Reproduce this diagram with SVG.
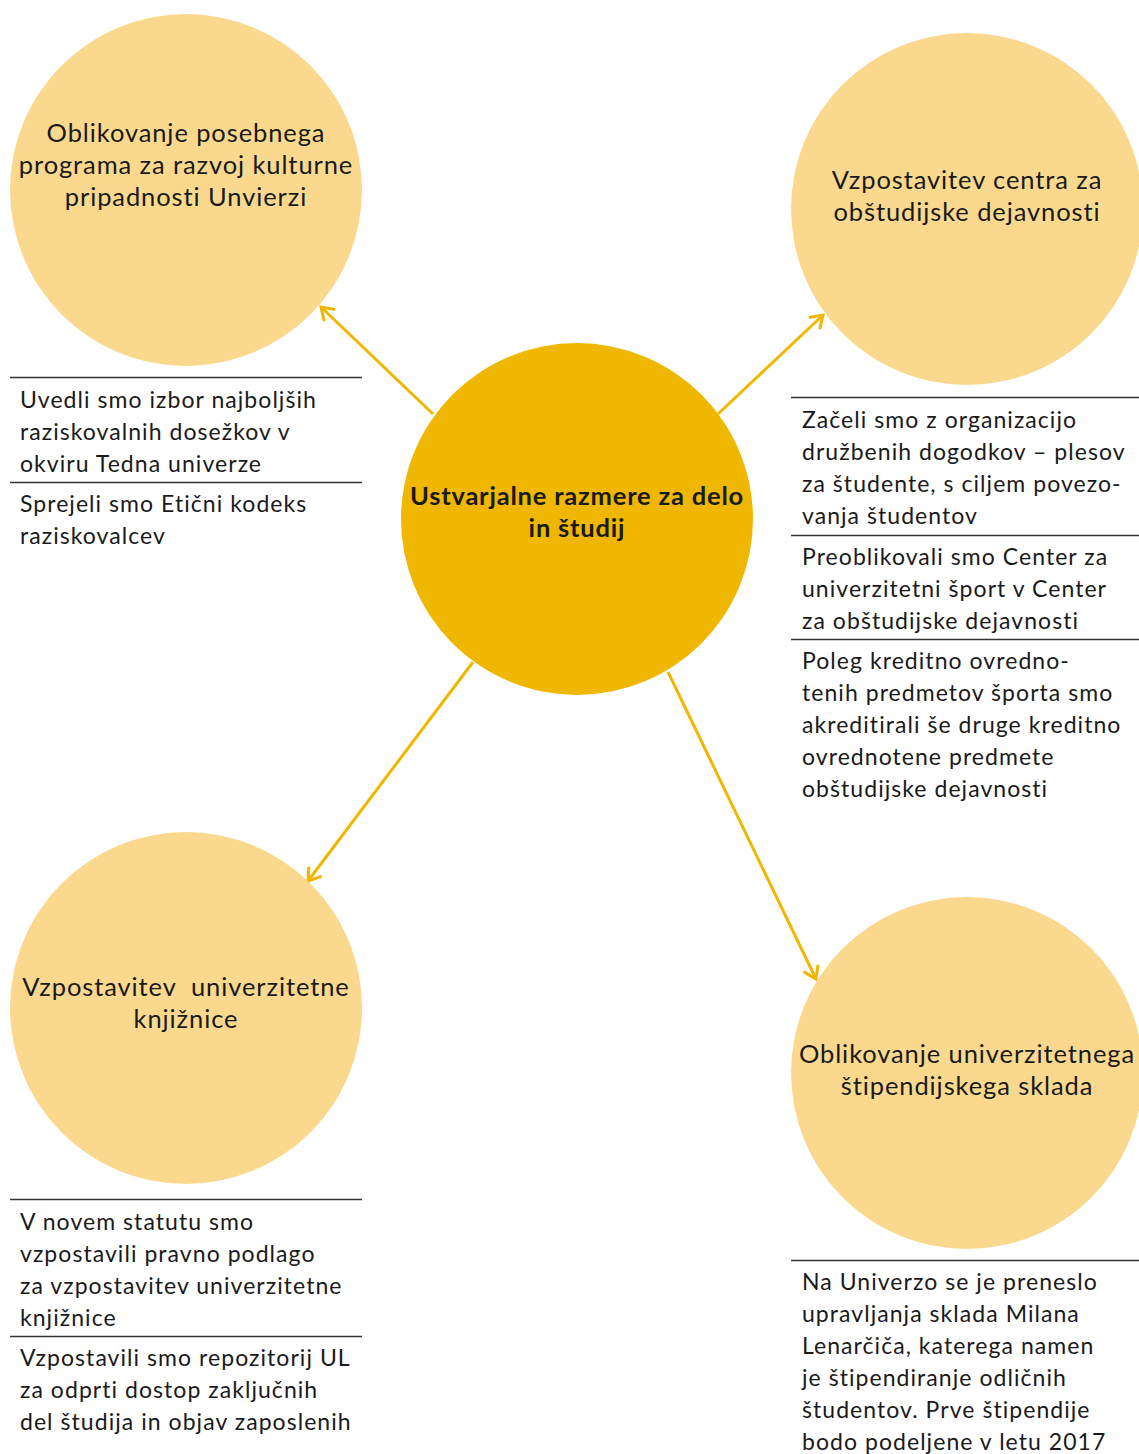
<svg xmlns="http://www.w3.org/2000/svg" width="1139" height="1454" viewBox="0 0 1139 1454">
<style>
.light{fill:#FAD98F}
.dark{fill:#F0B700}
.ct{font-family:Lato,"Noto Sans","Liberation Sans",sans-serif;font-size:25.5px;letter-spacing:0.9px;font-variant-ligatures:none;fill:#1a1a1a;text-anchor:middle}
.cb{font-weight:bold;letter-spacing:0.8px}
.t{font-family:Lato,"Noto Sans","Liberation Sans",sans-serif;font-size:23px;letter-spacing:1.05px;font-variant-ligatures:none;fill:#1a1a1a}
.sep{stroke:#333;stroke-width:1.4}
.arr{stroke:#F0B700;stroke-width:3;fill:none;marker-end:url(#ah)}
</style>
<defs>
<marker id="ah" markerWidth="20" markerHeight="20" refX="16" refY="10" orient="auto" markerUnits="userSpaceOnUse">
<path d="M4,2 L16,10 L4,18" fill="none" stroke="#F0B700" stroke-width="3"/>
</marker>
</defs>
<rect width="1139" height="1454" fill="#fff"/>
<g id="connectors">
<line class="arr" x1="433" y1="414" x2="321" y2="307"/>
<line class="arr" x1="718" y1="414" x2="823" y2="315"/>
<line class="arr" x1="473" y1="662" x2="308" y2="881"/>
<line class="arr" x1="668" y1="672" x2="816" y2="979"/>
</g>
<g id="n-center">
<circle class="dark" cx="577" cy="519" r="176"/>
<text class="ct cb" x="577" y="505">Ustvarjalne razmere za delo</text>
<text class="ct cb" x="577" y="537">in študij</text>
</g>
<g id="n-topleft">
<circle class="light" cx="186" cy="190" r="176"/>
<text class="ct" x="186" y="142">Oblikovanje posebnega</text>
<text class="ct" x="186" y="174">programa za razvoj kulturne</text>
<text class="ct" x="186" y="206">pripadnosti Unvierzi</text>
<line class="sep" x1="10" y1="377.5" x2="362" y2="377.5"/>
<text class="t" x="20" y="408">Uvedli smo izbor najboljših</text>
<text class="t" x="20" y="440">raziskovalnih dosežkov v</text>
<text class="t" x="20" y="472">okviru Tedna univerze</text>
<line class="sep" x1="10" y1="482.5" x2="362" y2="482.5"/>
<text class="t" x="20" y="512">Sprejeli smo Etični kodeks</text>
<text class="t" x="20" y="544">raziskovalcev</text>
</g>
<g id="n-topright">
<circle class="light" cx="967" cy="209" r="176"/>
<text class="ct" x="967" y="189">Vzpostavitev centra za</text>
<text class="ct" x="967" y="221">obštudijske dejavnosti</text>
<line class="sep" x1="791" y1="397.5" x2="1139" y2="397.5"/>
<text class="t" x="802" y="428">Začeli smo z organizacijo</text>
<text class="t" x="802" y="460">družbenih dogodkov – plesov</text>
<text class="t" x="802" y="492">za študente, s ciljem povezo-</text>
<text class="t" x="802" y="524">vanja študentov</text>
<line class="sep" x1="791" y1="535.5" x2="1139" y2="535.5"/>
<text class="t" x="802" y="565">Preoblikovali smo Center za</text>
<text class="t" x="802" y="597">univerzitetni šport v Center</text>
<text class="t" x="802" y="629">za obštudijske dejavnosti</text>
<line class="sep" x1="791" y1="639.5" x2="1139" y2="639.5"/>
<text class="t" x="802" y="669">Poleg kreditno ovredno-</text>
<text class="t" x="802" y="701">tenih predmetov športa smo</text>
<text class="t" x="802" y="733">akreditirali še druge kreditno</text>
<text class="t" x="802" y="765">ovrednotene predmete</text>
<text class="t" x="802" y="797">obštudijske dejavnosti</text>
</g>
<g id="n-bottomleft">
<circle class="light" cx="186" cy="1008" r="176"/>
<text class="ct" x="186" y="996" xml:space="preserve">Vzpostavitev  univerzitetne</text>
<text class="ct" x="186" y="1028">knjižnice</text>
<line class="sep" x1="10" y1="1199.5" x2="362" y2="1199.5"/>
<text class="t" x="20" y="1230">V novem statutu smo</text>
<text class="t" x="20" y="1262">vzpostavili pravno podlago</text>
<text class="t" x="20" y="1294">za vzpostavitev univerzitetne</text>
<text class="t" x="20" y="1326">knjižnice</text>
<line class="sep" x1="10" y1="1336.5" x2="362" y2="1336.5"/>
<text class="t" x="20" y="1366">Vzpostavili smo repozitorij UL</text>
<text class="t" x="20" y="1398">za odprti dostop zaključnih</text>
<text class="t" x="20" y="1430">del študija in objav zaposlenih</text>
</g>
<g id="n-bottomright">
<circle class="light" cx="967" cy="1073" r="176"/>
<text class="ct" x="967" y="1063">Oblikovanje univerzitetnega</text>
<text class="ct" x="967" y="1095">štipendijskega sklada</text>
<line class="sep" x1="791" y1="1260.5" x2="1139" y2="1260.5"/>
<text class="t" x="802" y="1290">Na Univerzo se je preneslo</text>
<text class="t" x="802" y="1322">upravljanja sklada Milana</text>
<text class="t" x="802" y="1354">Lenarčiča, katerega namen</text>
<text class="t" x="802" y="1386">je štipendiranje odličnih</text>
<text class="t" x="802" y="1418">študentov. Prve štipendije</text>
<text class="t" x="802" y="1450">bodo podeljene v letu 2017</text>
</g>
</svg>
